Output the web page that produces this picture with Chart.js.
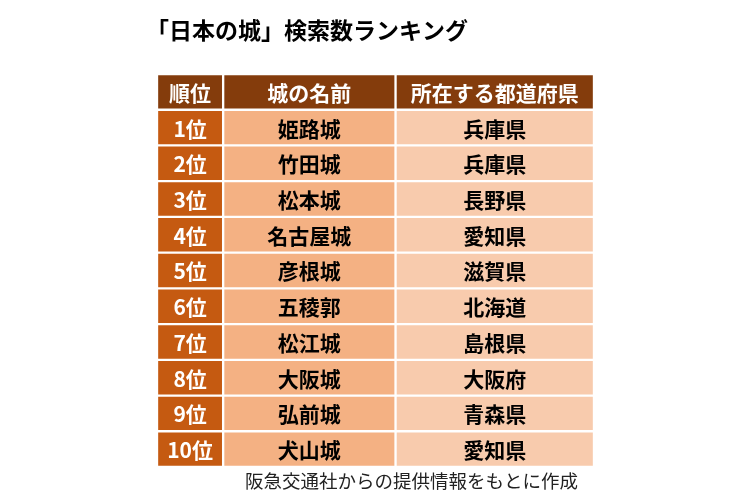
<!DOCTYPE html>
<html><head><meta charset="utf-8">
<script src="https://cdn.jsdelivr.net/npm/chart.js@4"></script>
<style>html,body{margin:0;background:#fff}</style></head>
<body><canvas id="c" width="750" height="500"></canvas>
<script>
const headers = ["順位","城の名前","所在する都道府県"];
const ranks = ["1位","2位","3位","4位","5位","6位","7位","8位","9位","10位"];
const castles = ["姫路城","竹田城","松本城","名古屋城","彦根城","五稜郭","松江城","大阪城","弘前城","犬山城"];
const prefectures = ["兵庫県","兵庫県","長野県","愛知県","滋賀県","北海道","島根県","大阪府","青森県","愛知県"];
const title = "「日本の城」検索数ランキング";
const note = "阪急交通社からの提供情報をもとに作成";

const colEdges = [0, 66, 238, 436];
const rowLabels = ["h", ...ranks];
const columns = [
  [headers[0], ...ranks],
  [headers[1], ...castles],
  [headers[2], ...prefectures]
];
const headColor = "#843C0C";
const bodyColors = ["#C55A11", "#F4B183", "#F8CBAD"];
const textColors = ["#ffffff", "#000000", "#000000"];
const FONT = '"Noto Sans CJK JP", sans-serif';

const datasets = columns.map((col, ci) => ({
  data: col.map(() => [colEdges[ci], colEdges[ci + 1]]),
  texts: col,
  backgroundColor: col.map((_, ri) => ri === 0 ? headColor : bodyColors[ci]),
  borderColor: "#ffffff",
  borderWidth: 1.5,
  borderSkipped: false,
  grouped: false,
  barPercentage: 1,
  categoryPercentage: 1
}));

const textPlugin = {
  id: "tableText",
  afterDatasetsDraw(chart) {
    const ctx = chart.ctx;
    ctx.save();
    ctx.textAlign = "center";
    ctx.textBaseline = "middle";
    chart.data.datasets.forEach((ds, ci) => {
      chart.getDatasetMeta(ci).data.forEach((el, ri) => {
        const p = el.getProps(["x", "base", "y"], true);
        ctx.fillStyle = ri === 0 ? "#ffffff" : textColors[ci];
        ctx.font = "bold 21px " + FONT;
        ctx.fillText(ds.texts[ri], (p.x + p.base) / 2, p.y + 1);
      });
    });
    ctx.textAlign = "left";
    ctx.fillStyle = "#000";
    ctx.font = "bold 23px " + FONT;
    ctx.fillText(title, 146, 30);
    ctx.font = "18.5px " + FONT;
    ctx.fillStyle = "#222";
    ctx.fillText(note, 245, 481);
    ctx.restore();
  }
};

new Chart(document.getElementById("c"), {
  type: "bar",
  data: { labels: rowLabels, datasets },
  options: {
    indexAxis: "y",
    responsive: false,
    animation: false,
    layout: { padding: { left: 157, right: 156, top: 74, bottom: 33 } },
    plugins: { legend: { display: false }, tooltip: { enabled: false } },
    scales: {
      x: { type: "linear", min: 0, max: 436, display: false },
      y: { type: "category", display: false }
    }
  },
  plugins: [textPlugin]
});
</script></body></html>
